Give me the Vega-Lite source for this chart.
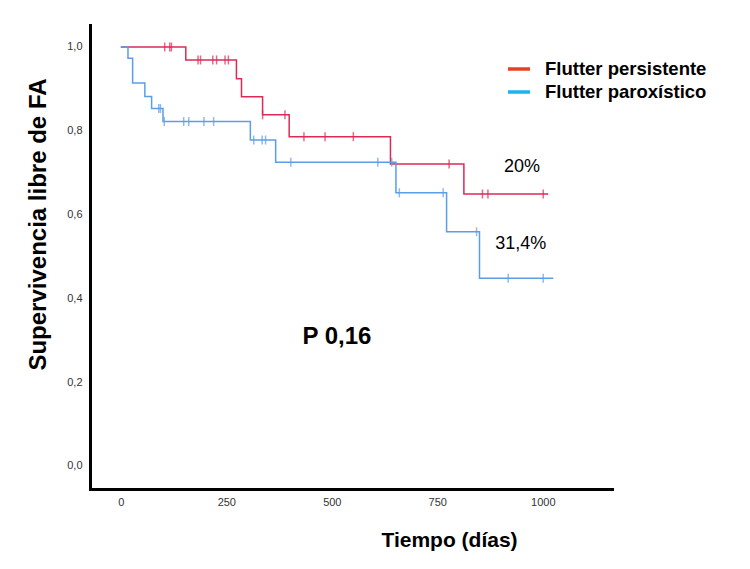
{
  "$schema": "https://vega.github.io/schema/vega-lite/v6.json",
  "width": 522,
  "height": 464,
  "autosize": {"type": "none"},
  "padding": {"left": 90, "top": 25, "right": 138, "bottom": 80},
  "background": "white",
  "config": {"view": {"stroke": null}, "font": "Liberation Sans"},
  "datasets": {
    "curves": [
      {"grupo": "Flutter persistente", "t": 0, "s": 1.0},
      {"grupo": "Flutter persistente", "t": 154, "s": 0.969},
      {"grupo": "Flutter persistente", "t": 274, "s": 0.924},
      {"grupo": "Flutter persistente", "t": 286, "s": 0.881},
      {"grupo": "Flutter persistente", "t": 336, "s": 0.838},
      {"grupo": "Flutter persistente", "t": 399, "s": 0.786},
      {"grupo": "Flutter persistente", "t": 639, "s": 0.721},
      {"grupo": "Flutter persistente", "t": 813, "s": 0.649},
      {"grupo": "Flutter persistente", "t": 1013, "s": 0.649},
      {"grupo": "Flutter paroxístico", "t": 0, "s": 1.0},
      {"grupo": "Flutter paroxístico", "t": 17, "s": 0.973},
      {"grupo": "Flutter paroxístico", "t": 28, "s": 0.914},
      {"grupo": "Flutter paroxístico", "t": 57, "s": 0.882},
      {"grupo": "Flutter paroxístico", "t": 73, "s": 0.853},
      {"grupo": "Flutter paroxístico", "t": 100, "s": 0.822},
      {"grupo": "Flutter paroxístico", "t": 307, "s": 0.778},
      {"grupo": "Flutter paroxístico", "t": 367, "s": 0.725},
      {"grupo": "Flutter paroxístico", "t": 652, "s": 0.652},
      {"grupo": "Flutter paroxístico", "t": 772, "s": 0.559},
      {"grupo": "Flutter paroxístico", "t": 850, "s": 0.448},
      {"grupo": "Flutter paroxístico", "t": 1025, "s": 0.448}
    ],
    "censors": [
      {"grupo": "Flutter persistente", "t": 104, "s": 1.0},
      {"grupo": "Flutter persistente", "t": 116, "s": 1.0},
      {"grupo": "Flutter persistente", "t": 120, "s": 1.0},
      {"grupo": "Flutter persistente", "t": 183, "s": 0.969},
      {"grupo": "Flutter persistente", "t": 189, "s": 0.969},
      {"grupo": "Flutter persistente", "t": 218, "s": 0.969},
      {"grupo": "Flutter persistente", "t": 227, "s": 0.969},
      {"grupo": "Flutter persistente", "t": 247, "s": 0.969},
      {"grupo": "Flutter persistente", "t": 255, "s": 0.969},
      {"grupo": "Flutter persistente", "t": 336, "s": 0.838},
      {"grupo": "Flutter persistente", "t": 389, "s": 0.838},
      {"grupo": "Flutter persistente", "t": 434, "s": 0.786},
      {"grupo": "Flutter persistente", "t": 484, "s": 0.786},
      {"grupo": "Flutter persistente", "t": 551, "s": 0.786},
      {"grupo": "Flutter persistente", "t": 778, "s": 0.721},
      {"grupo": "Flutter persistente", "t": 857, "s": 0.649},
      {"grupo": "Flutter persistente", "t": 870, "s": 0.649},
      {"grupo": "Flutter persistente", "t": 1001, "s": 0.649},
      {"grupo": "Flutter paroxístico", "t": 90, "s": 0.853},
      {"grupo": "Flutter paroxístico", "t": 94, "s": 0.853},
      {"grupo": "Flutter paroxístico", "t": 103, "s": 0.822},
      {"grupo": "Flutter paroxístico", "t": 149, "s": 0.822},
      {"grupo": "Flutter paroxístico", "t": 161, "s": 0.822},
      {"grupo": "Flutter paroxístico", "t": 197, "s": 0.822},
      {"grupo": "Flutter paroxístico", "t": 220, "s": 0.822},
      {"grupo": "Flutter paroxístico", "t": 315, "s": 0.778},
      {"grupo": "Flutter paroxístico", "t": 335, "s": 0.778},
      {"grupo": "Flutter paroxístico", "t": 343, "s": 0.778},
      {"grupo": "Flutter paroxístico", "t": 403, "s": 0.725},
      {"grupo": "Flutter paroxístico", "t": 609, "s": 0.725},
      {"grupo": "Flutter paroxístico", "t": 642, "s": 0.725},
      {"grupo": "Flutter paroxístico", "t": 660, "s": 0.652},
      {"grupo": "Flutter paroxístico", "t": 764, "s": 0.652},
      {"grupo": "Flutter paroxístico", "t": 843, "s": 0.559},
      {"grupo": "Flutter paroxístico", "t": 918, "s": 0.448},
      {"grupo": "Flutter paroxístico", "t": 1001, "s": 0.448}
    ]
  },
  "layer": [
    {
      "data": {"name": "curves"},
      "mark": {"type": "line", "interpolate": "step-after", "strokeWidth": 1.5},
      "encoding": {
        "x": {
          "field": "t", "type": "quantitative",
          "scale": {"domain": [-73, 1164], "nice": false, "zero": false},
          "axis": {
            "values": [0, 250, 500, 750, 1000], "format": "d",
            "grid": false, "ticks": false, "tickSize": 0,
            "domainColor": "black", "domainWidth": 3, "domainCap": "square",
            "labelFontSize": 11, "labelColor": "#333333", "labelPadding": 7,
            "title": "Tiempo (días)", "titleFontSize": 21, "titleFontWeight": "bold", "titleColor": "black",
            "titleX": 359, "titleY": 51, "titleBaseline": "middle", "titleAlign": "center"
          }
        },
        "y": {
          "field": "s", "type": "quantitative",
          "scale": {"domain": [-0.055, 1.0525], "nice": false, "zero": false},
          "axis": {
            "values": [0, 0.2, 0.4, 0.6, 0.8, 1.0],
            "labelExpr": "replace(format(datum.value, '.1f'), '.', ',')",
            "grid": false, "ticks": false, "tickSize": 0,
            "domainColor": "black", "domainWidth": 3, "domainCap": "square",
            "labelFontSize": 11, "labelColor": "#333333", "labelPadding": 8,
            "title": "Supervivencia libre de FA", "titleFontSize": 24, "titleFontWeight": "bold", "titleColor": "black",
            "titleX": -52, "titleY": 199, "titleBaseline": "middle", "titleAlign": "center", "titleAngle": -90
          }
        },
        "stroke": {
          "field": "grupo", "type": "nominal",
          "scale": {"domain": ["Flutter paroxístico", "Flutter persistente"], "range": ["#5b9ee8", "#dc2a55"]},
          "legend": null
        }
      }
    },
    {
      "data": {"name": "censors"},
      "mark": {"type": "tick", "orient": "vertical", "size": 9, "thickness": 1.5},
      "encoding": {
        "x": {"field": "t", "type": "quantitative"},
        "y": {"field": "s", "type": "quantitative"},
        "fill": {"field": "grupo", "type": "nominal", "scale": {"domain": ["Flutter paroxístico", "Flutter persistente"], "range": ["#5b9ee8", "#dc2a55"]}, "legend": null}
      }
    },
    {
      "data": {"name": "curves"},
      "mark": {"type": "line", "opacity": 0},
      "encoding": {
        "x": {"field": "t", "type": "quantitative"},
        "y": {"field": "s", "type": "quantitative"},
        "color": {
          "field": "grupo", "type": "nominal",
          "scale": {"domain": ["Flutter persistente", "Flutter paroxístico"], "range": ["#e8401f", "#1ab4f0"]},
          "legend": {
            "title": null, "orient": "none", "legendX": 416, "legendY": 31,
            "symbolType": "stroke", "symbolStrokeWidth": 3.5, "symbolSize": 484,
            "labelFontSize": 18.5, "labelFontWeight": "bold", "labelColor": "black",
            "labelOffset": 13, "rowPadding": 0, "labelLimit": 400
          }
        }
      }
    },
    {
      "data": {"values": [{"label": "20%"}]},
      "mark": {"type": "text", "fontSize": 18, "color": "black", "align": "center", "baseline": "middle"},
      "encoding": {"x": {"datum": 951}, "y": {"datum": 0.714}, "text": {"field": "label"}}
    },
    {
      "data": {"values": [{"label": "31,4%"}]},
      "mark": {"type": "text", "fontSize": 18, "color": "black", "align": "center", "baseline": "middle"},
      "encoding": {"x": {"datum": 948}, "y": {"datum": 0.53}, "text": {"field": "label"}}
    },
    {
      "data": {"values": [{"label": "P 0,16"}]},
      "mark": {"type": "text", "fontSize": 24, "fontWeight": "bold", "color": "black", "align": "center", "baseline": "middle"},
      "encoding": {"x": {"datum": 512}, "y": {"datum": 0.308}, "text": {"field": "label"}}
    }
  ]
}
